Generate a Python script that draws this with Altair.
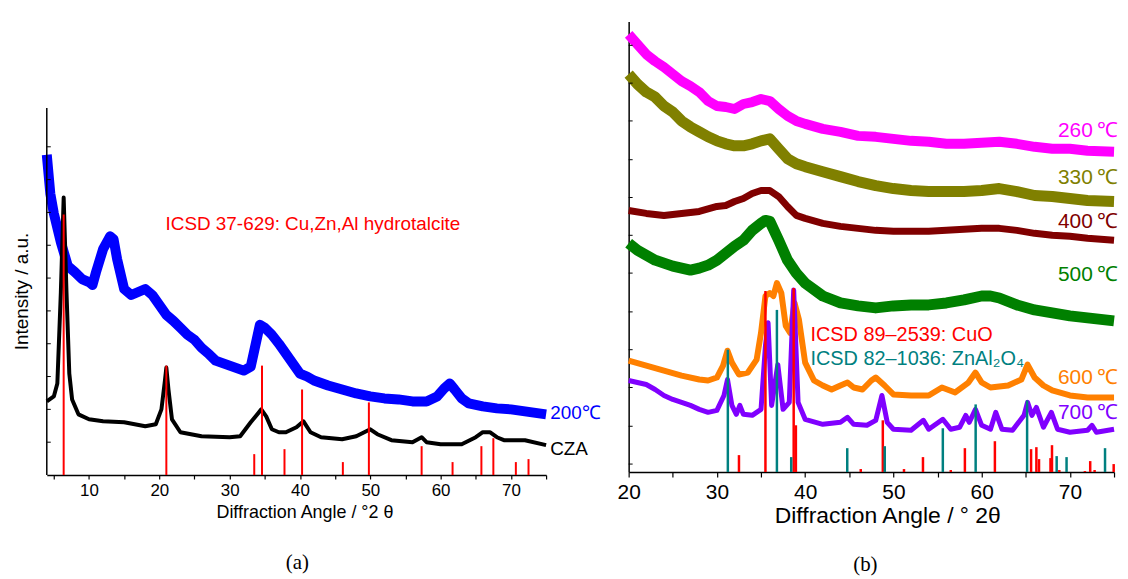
import altair as alt
import pandas as pd

# ---------------- Panel (a) ----------------
a_cza_x = [4, 5, 5.5, 6.0, 6.4, 6.8, 7.2, 7.6, 8.5, 10, 12, 15, 18, 19.5, 20.3, 20.8, 21.0, 21.3, 21.8, 23, 26, 30,
           31.5, 33, 34.5, 35.2, 36, 37, 38, 39.5, 40.5, 41.5, 43, 46, 48, 50, 51, 53, 56, 57.3, 58, 60, 63, 65, 66,
           67, 68, 69, 72, 75]
a_cza_y = [74, 79, 92, 184, 279, 184, 102, 76, 61, 56, 54, 53, 49, 51, 66, 95, 108, 86, 56, 43, 39, 38,
           39, 53, 66, 59, 46, 43, 43, 48, 54, 43, 38, 36, 39, 46, 41, 35, 33, 38, 33, 31, 31, 38, 43,
           43, 38, 35, 35, 30]

a_200_x = [4, 4.5, 5, 6, 7, 8, 9, 10, 10.5, 11, 12, 13, 13.5, 14, 15, 16, 17, 18, 19, 20, 21, 22, 23, 24, 25, 26,
           27, 28, 30, 32, 33, 33.5, 34.3, 35, 36, 37, 38, 39, 40, 41, 42, 44, 46, 48, 50, 52, 54, 56, 58, 59.5,
           60.5, 61.3, 62, 63, 64, 66, 68, 70, 72, 75]
a_200_y = [322, 283, 263, 234, 210, 204, 197, 194, 191, 204, 227, 240, 237, 217, 187, 181, 184, 187, 181, 171,
           161, 155, 148, 141, 136, 128, 122, 115, 110, 105, 109, 125, 151, 148, 141, 132, 122, 112, 102, 99, 95,
           90, 86, 82, 79, 77, 76, 74, 74, 79, 87, 92, 86, 77, 72, 69, 67, 66, 64, 61]

a_ref_pos = [6.4, 21.0, 33.5, 34.6, 37.8, 40.3, 46.1, 49.8, 57.3, 61.7, 65.8, 67.5, 70.7, 72.5]
a_ref_int = [262, 110, 21, 110, 26, 86, 13, 73, 29, 13, 29, 37, 13, 16]

a_ytick = [33, 66, 99, 132, 165, 198, 231, 264, 297, 330]
a_xtick = [5, 10, 15, 20, 25, 30, 35, 40, 45, 50, 55, 60, 65, 70, 75]

a_lbl_text = ["ICSD 37-629: Cu,Zn,Al hydrotalcite", "200\u2103", "CZA"]
a_lbl_x = [20.6, 75.3, 75.3]
a_lbl_y = [252, 62, 26]
a_lbl_col = ["#ff0000", "#0000ff", "#000000"]

# ---------------- Panel (b) ----------------
b_series = ["260", "330", "400", "500", "600", "700"]
b_colors = ["#ff00ff", "#808000", "#800000", "#008000", "#ff8000", "#8000ff"]
b_widths = [10, 11, 7, 11, 6, 5]

b_x = {
    "260": [20, 21, 22, 23, 24, 25, 26, 27, 28, 29, 30, 31, 32, 33, 34, 35, 36, 37, 38, 39, 40, 42, 44, 46, 48, 50,
            52, 54, 56, 58, 60, 62, 64, 66, 68, 70, 72, 75],
    "330": [20, 21, 22, 23, 24, 25, 26, 27, 28, 29, 30, 31, 32, 33, 34, 35, 36, 37, 38, 39, 40, 42, 44, 46, 48, 50,
            52, 54, 56, 58, 60, 62, 64, 66, 68, 70, 72, 75],
    "400": [20, 22, 24, 26, 28, 30, 31, 32, 33, 34, 35, 36, 37, 38, 39, 40, 42, 44, 46, 48, 50, 52, 54, 56, 58, 60,
            62, 64, 66, 68, 70, 72, 75],
    "500": [20, 21, 22, 23, 24, 25, 26, 27, 28, 29, 30, 31, 32, 33, 34, 35, 35.5, 36, 37, 38, 39, 40, 42, 44, 46,
            48, 50, 52, 54, 56, 58, 60, 61, 62, 64, 66, 68, 70, 72, 75],
    "600": [20, 22, 24, 26, 28, 29, 30, 30.7, 31.2, 31.7, 32.5, 33.5, 34.5, 35, 35.5, 36, 36.4, 36.8, 37.3, 37.8,
            38.3, 38.8, 39.3, 40, 41, 42, 43, 44, 44.8, 45.5, 46.5, 47.5, 48, 49, 50, 52, 54, 55.5, 57, 58.5, 59.3,
            60, 61, 63, 64.5, 65.2, 66, 67, 68, 70, 72, 75],
    "700": [20, 21, 22, 23, 24, 25, 26, 27, 28, 29, 30, 30.8, 31.2, 31.7, 32.2, 32.6, 33, 34, 35, 35.5, 35.8, 36.2,
            36.9, 37.5, 38.2, 38.7, 39.2, 40, 42, 44, 44.8, 45.5, 47, 48, 48.7, 49.3, 50, 52, 53.4, 54, 55.6, 56.5,
            57.5, 58.2, 58.6, 59.3, 60, 61, 61.6, 62.3, 63.5, 64.8, 65.2, 65.7, 66.2, 67, 67.9, 68.6, 70, 72, 72.5,
            73, 75],
}
b_y = {
    "260": [440, 430, 420, 413, 407, 400, 393, 388, 382, 373, 368, 367, 365, 370, 372, 375, 373, 365, 358, 353, 350,
            345, 342, 338, 337, 335, 333, 332, 330, 330, 331, 332, 330, 327, 325, 325, 323, 322],
    "330": [400, 390, 382, 377, 368, 362, 353, 347, 342, 337, 333, 330, 328, 328, 330, 333, 335, 325, 315, 310, 307,
            302, 297, 292, 288, 285, 283, 282, 282, 282, 283, 285, 282, 278, 277, 275, 273, 272],
    "400": [263, 260, 258, 260, 262, 267, 268, 272, 275, 280, 283, 283, 277, 267, 258, 255, 250, 247, 245, 243, 242,
            242, 242, 243, 244, 245, 245, 243, 240, 238, 237, 235, 233],
    "500": [230, 223, 218, 213, 210, 207, 205, 203, 205, 208, 213, 220, 227, 233, 243, 250, 253, 252, 233, 213, 200,
            190, 177, 170, 167, 165, 167, 168, 168, 170, 173, 177, 177, 175, 168, 163, 160, 157, 155, 152],
    "600": [112, 107, 102, 97, 93, 92, 95, 107, 122, 110, 98, 100, 113, 140, 177, 180, 177, 190, 180, 147,
            140, 170, 153, 110, 92, 87, 83, 87, 90, 85, 83, 92, 95, 87, 78, 77, 77, 85, 80, 90, 100,
            90, 85, 87, 93, 108, 95, 87, 82, 77, 75, 75],
    "700": [92, 90, 88, 83, 77, 73, 70, 67, 63, 60, 62, 77, 93, 67, 58, 67, 58, 57, 63, 127, 150, 67,
            108, 63, 70, 183, 70, 53, 48, 50, 55, 48, 47, 52, 77, 50, 43, 42, 52, 43, 53, 43,
            45, 57, 50, 63, 47, 43, 60, 43, 42, 57, 70, 57, 65, 45, 60, 43, 40, 42, 47,
            40, 43],
}

b_lbl_text = ["260\u2009\u2103", "330\u2009\u2103", "400\u2009\u2103", "500\u2009\u2103", "600\u2009\u2103",
              "700\u2009\u2103"]
b_lbl_y = [343, 296, 251, 198, 95, 59]

b_cuo_pos = [32.5, 35.5, 38.7, 38.95, 46.3, 48.8, 51.2, 53.35, 56.5, 58.1, 61.5, 65.6, 66.2, 66.5, 67.8, 67.97,
             68.8, 71.7, 72.3, 72.8, 74.96]
b_cuo_int = [17, 182, 185, 47, 3, 52, 3, 15, 2, 24, 31, 23, 25, 13, 14, 27, 2, 1, 11, 2, 8]
b_zn_pos = [31.24, 36.8, 38.42, 44.77, 49.02, 55.6, 59.32, 65.15, 68.5, 69.62, 73.98]
b_zn_int = [123, 163, 15, 24, 26, 44, 68, 72, 16, 15, 24]

b_ytick = [8, 46, 85, 123, 161, 200, 238, 276, 314, 353, 391, 429]
b_xtick = [20, 25, 30, 35, 40, 45, 50, 55, 60, 65, 70, 75]

b_ref_text = ["ICSD 89\u20132539: CuO", "ICSD 82\u20131036: ZnAl\u2082O\u2084"]
b_ref_x = [40.6, 40.6]
b_ref_y = [138, 114]
b_ref_col = ["#ff0000", "#008080"]

SANS = "Liberation Sans"
SERIF = "Liberation Serif"

# ---------------- build panel (a) ----------------
AW, AH = 502, 456
ax_x = alt.X("x:Q", scale=alt.Scale(domain=[4, 75], nice=False, zero=False),
             axis=alt.Axis(values=a_xtick, labelExpr="datum.value % 10 == 0 ? datum.label : ''",
                           title="Diffraction Angle / \u00b02 \u03b8", grid=False, tickSize=4,
                           labelFontSize=17, titleFontSize=18, labelPadding=4, titlePadding=5, titleX=259,
                           labelFont=SANS, titleFont=SANS, titleFontWeight="normal",
                           domainColor="black", tickColor="black", labelColor="black", titleColor="black",
                           domainWidth=1.5, tickWidth=1.2))
ax_y = alt.Y("y:Q", scale=alt.Scale(domain=[0, AH], nice=False, zero=True),
             axis=alt.Axis(title="Intensity / a.u.", labels=False, ticks=False, domain=False, grid=False,
                           titleFontSize=19, titleFont=SANS, titleFontWeight="normal", titleColor="black",
                           titlePadding=15, titleY=271))

df_cza = pd.DataFrame({"x": a_cza_x, "y": a_cza_y})
df_200 = pd.DataFrame({"x": a_200_x, "y": a_200_y})
df_aref = pd.DataFrame({"x": a_ref_pos, "y": a_ref_int})
df_ayt = pd.DataFrame({"y": a_ytick})
df_aaxis = pd.DataFrame({"y": [369]})
df_albl = pd.DataFrame({"x": a_lbl_x, "y": a_lbl_y, "t": a_lbl_text, "c": a_lbl_col})

la_200 = alt.Chart(df_200).mark_line(color="#0000ff", strokeWidth=10, strokeJoin="round").encode(x=ax_x, y=ax_y)
la_cza = alt.Chart(df_cza).mark_line(color="#000000", strokeWidth=4, strokeJoin="round").encode(x=ax_x, y=ax_y)
la_ref = alt.Chart(df_aref).mark_rule(color="#ff0000", strokeWidth=2).encode(x=ax_x, y=ax_y, y2=alt.datum(0))
la_axis = alt.Chart(df_aaxis).mark_rule(color="black", strokeWidth=1.5).encode(
    x=alt.value(0), y=ax_y, y2=alt.datum(0))
la_tick = alt.Chart(df_ayt).mark_rule(color="black", strokeWidth=1).encode(
    x=alt.value(0), x2=alt.value(4), y=ax_y)
la_lbl = alt.Chart(df_albl).mark_text(align="left", baseline="middle", fontSize=19, font=SANS, dx=2).encode(
    x=ax_x, y=ax_y, text="t:N", color=alt.Color("c:N", scale=None))
la_cap = alt.Chart(pd.DataFrame({"t": ["(a)"]})).mark_text(fontSize=21, font=SERIF, baseline="middle").encode(
    x=alt.value(252), y=alt.value(544), text="t:N")

panel_a = alt.layer(la_200, la_cza, la_ref, la_axis, la_tick, la_lbl, la_cap).properties(width=AW, height=AH)

# ---------------- build panel (b) ----------------
BW, BH = 488, 453
bx = alt.X("x:Q", scale=alt.Scale(domain=[20, 75], nice=False, zero=False),
           axis=alt.Axis(values=b_xtick, labelExpr="datum.value % 10 == 0 && datum.value < 75 ? datum.label : ''",
                         title="Diffraction Angle / \u00b0 2\u03b8", grid=False, tickSize=5,
                         labelFontSize=21, titleFontSize=23, labelPadding=5, titlePadding=2, titleX=260,
                         labelFont=SANS, titleFont=SANS, titleFontWeight="normal",
                         domainColor="black", tickColor="black", labelColor="black", titleColor="black",
                         domainWidth=1.5, tickWidth=1.2, labelFlush=False))
by = alt.Y("y:Q", scale=alt.Scale(domain=[0, BH], nice=False, zero=True),
           axis=alt.Axis(title=None, labels=False, ticks=False, domain=True, grid=False,
                         domainColor="black", domainWidth=1.5))

layers_b = []
for s, col, w in zip(b_series, b_colors, b_widths):
    d = pd.DataFrame({"x": b_x[s], "y": b_y[s]})
    layers_b.append(alt.Chart(d).mark_line(color=col, strokeWidth=w, strokeJoin="round").encode(x=bx, y=by))

df_cuo = pd.DataFrame({"x": b_cuo_pos, "y": b_cuo_int})
df_zn = pd.DataFrame({"x": b_zn_pos, "y": b_zn_int})
layers_b.append(alt.Chart(df_cuo).mark_rule(color="#ff0000", strokeWidth=2.5).encode(x=bx, y=by, y2=alt.datum(0)))
layers_b.append(alt.Chart(df_zn).mark_rule(color="#008080", strokeWidth=2.5).encode(x=bx, y=by, y2=alt.datum(0)))
layers_b.append(alt.Chart(pd.DataFrame({"y": b_ytick})).mark_rule(color="black", strokeWidth=1).encode(
    x=alt.value(0), x2=alt.value(4), y=by))

df_blbl = pd.DataFrame({"x": [75] * 6, "y": b_lbl_y, "t": b_lbl_text, "c": b_colors})
layers_b.append(alt.Chart(df_blbl).mark_text(align="right", baseline="middle", fontSize=21, font=SANS, dx=4).encode(
    x=bx, y=by, text="t:N", color=alt.Color("c:N", scale=None)))
df_bref = pd.DataFrame({"x": b_ref_x, "y": b_ref_y, "t": b_ref_text, "c": b_ref_col})
layers_b.append(alt.Chart(df_bref).mark_text(align="left", baseline="middle", fontSize=20, font=SANS).encode(
    x=bx, y=by, text="t:N", color=alt.Color("c:N", scale=None)))
layers_b.append(alt.Chart(pd.DataFrame({"t": ["(b)"]})).mark_text(fontSize=21, font=SERIF, baseline="middle").encode(
    x=alt.value(238), y=alt.value(547), text="t:N"))

panel_b = alt.layer(*layers_b).properties(width=BW, height=BH)

chart = alt.hconcat(panel_a, panel_b, spacing=83, bounds="flush").properties(
    padding={"left": 5, "top": 12, "right": 0, "bottom": 0}, background="white"
).configure_view(strokeWidth=0, stroke="transparent")

chart.save("out.html", embed_options={"renderer": "svg", "actions": False})
